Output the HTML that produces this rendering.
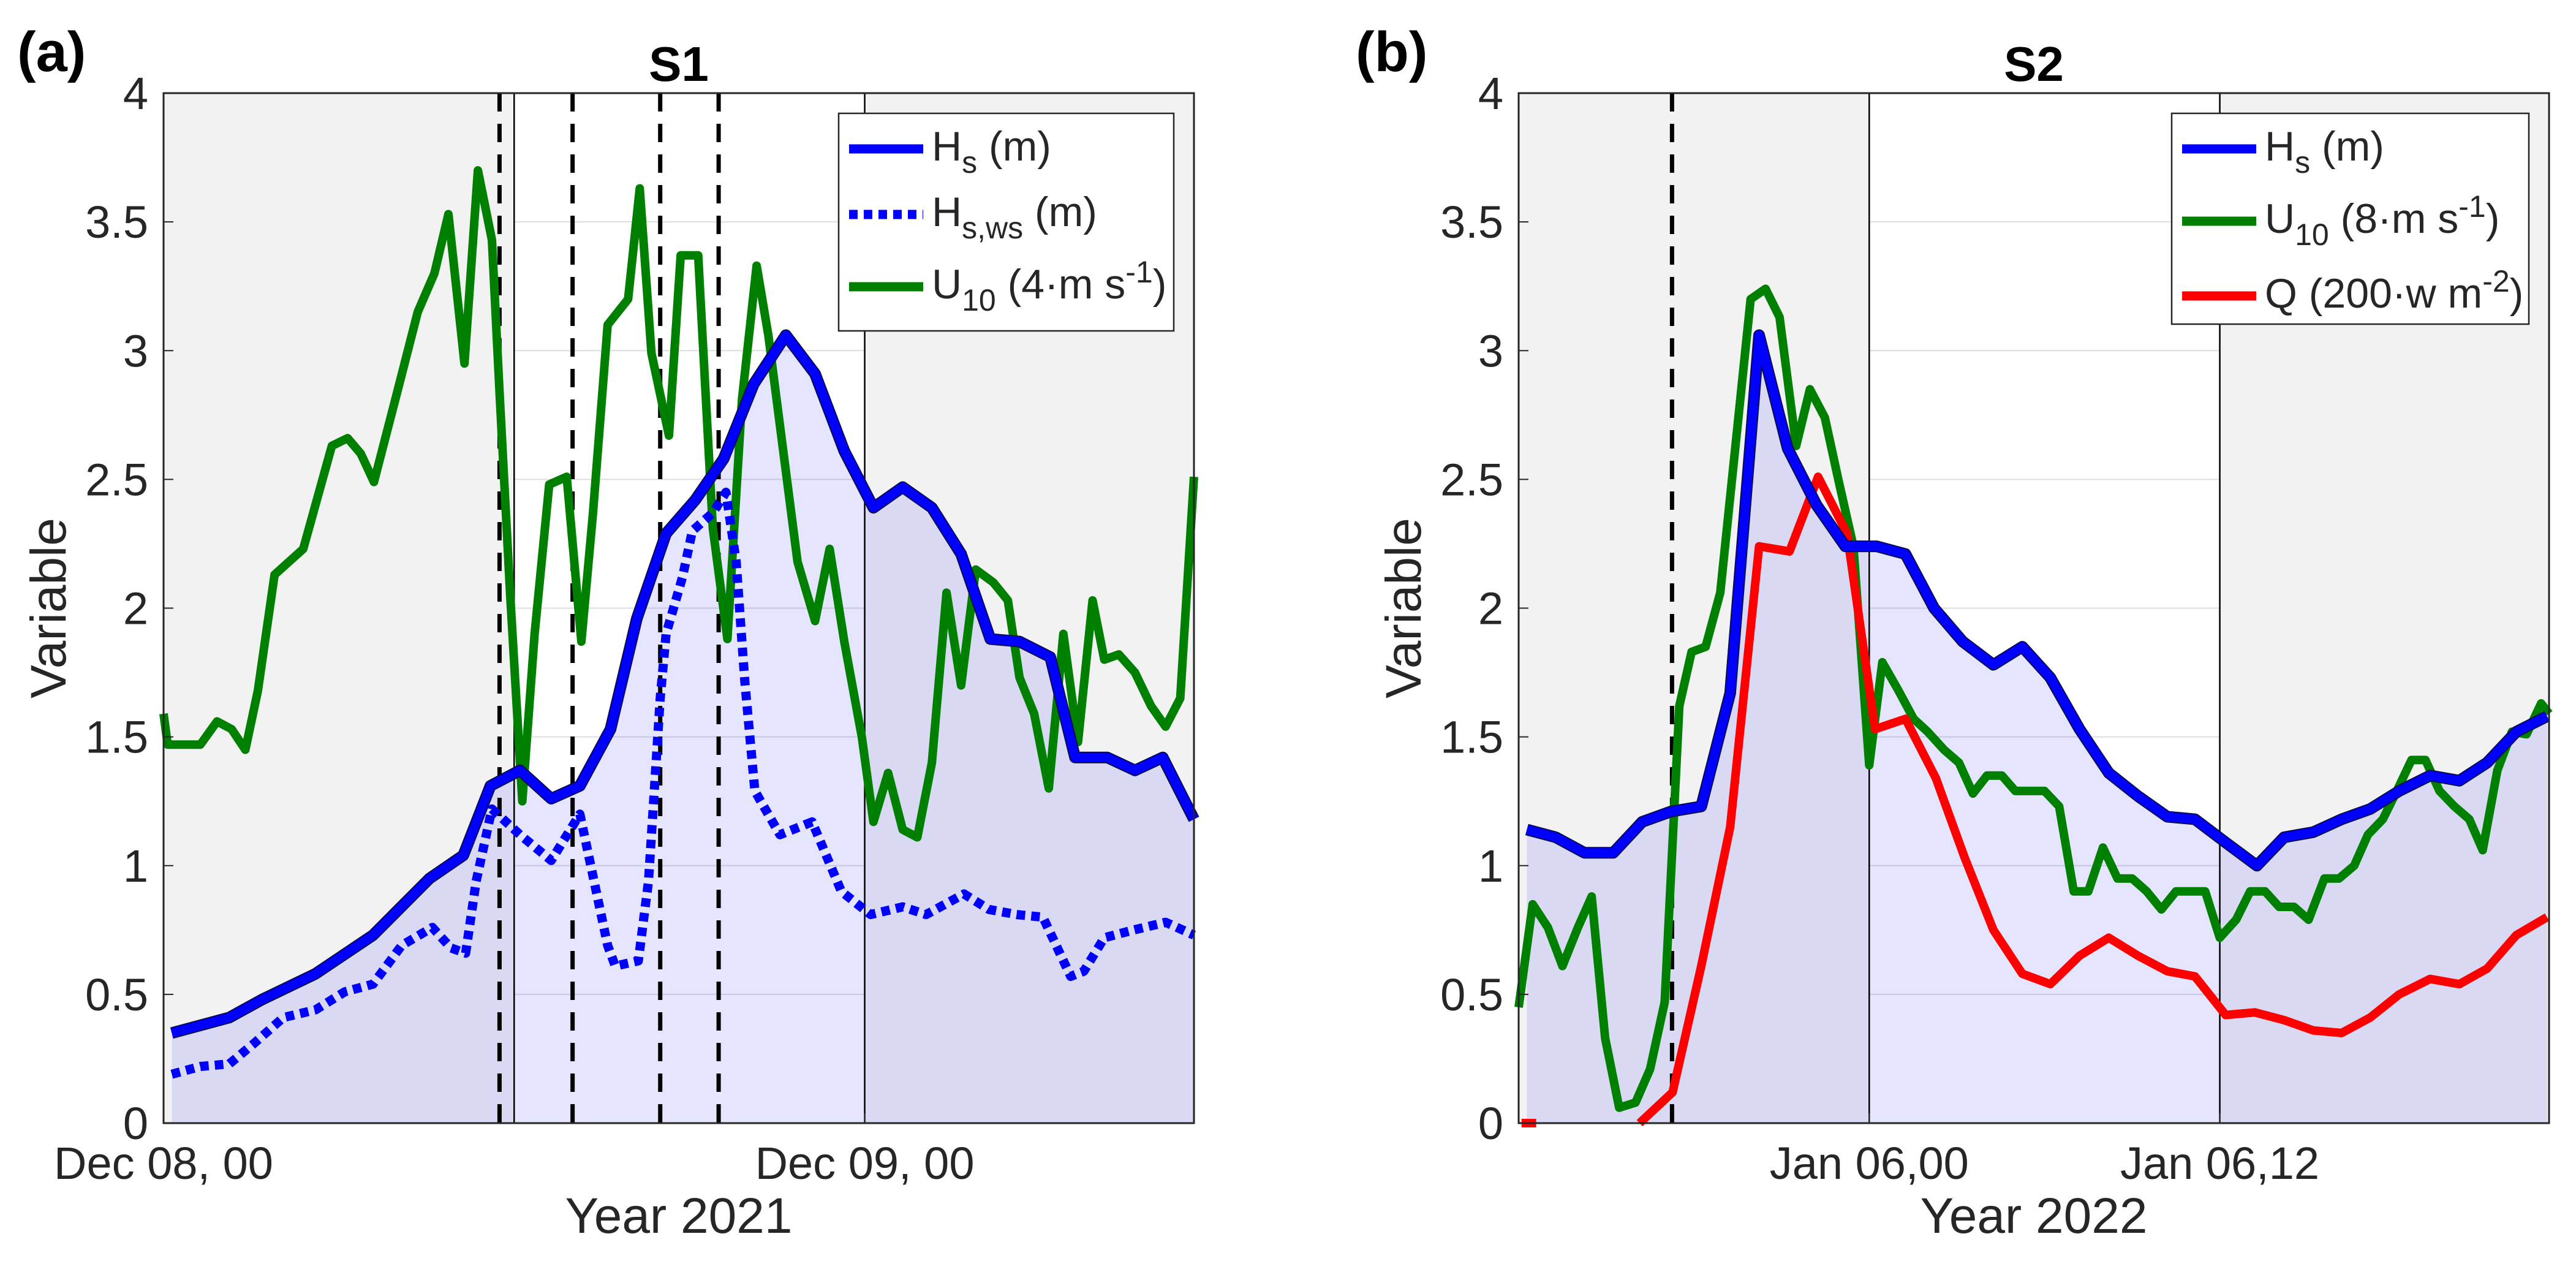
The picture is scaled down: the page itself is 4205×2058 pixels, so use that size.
<!DOCTYPE html>
<html><head><meta charset="utf-8"><style>
html,body{margin:0;padding:0;background:#fff}
svg text{font-family:"Liberation Sans",Arial,sans-serif;fill:#262626}
</style></head><body>
<svg id="fig" width="4205" height="2053" viewBox="0 0 4205 2053" xmlns="http://www.w3.org/2000/svg">
<g id="pa"></g>
<g id="pb"></g>
</svg>
<script>
// ---- Panel (a) data: hours since Dec 08 00 ----
const aHsT=[0.28,2.25,3.37,5.2,7.17,9.1,10.26,11.19,12.2,13.27,14.25,15.3,16.2,17.2,18.2,19.17,20.2,21.3,22.3,23.3,24.3,25.3,26.3,27.3,28.3,29.3,30.35,31.2,32.3,33.25,34.2,35.27];
const aHsV=[0.35,0.41,0.48,0.58,0.73,0.95,1.04,1.31,1.37,1.26,1.31,1.53,1.96,2.29,2.42,2.58,2.87,3.06,2.91,2.61,2.39,2.47,2.39,2.21,1.88,1.87,1.81,1.42,1.42,1.37,1.42,1.18];
const aWsT=[0.28,1.26,2.25,3.1,4.1,5.2,6.2,7.17,8.15,9.2,9.84,10.34,10.7,11.24,12.2,13.27,14.25,15.2,15.46,16.25,16.6,17.0,17.2,17.76,18.1,18.8,19.25,19.6,19.9,20.24,21.1,22.2,23.2,24.2,25.3,26.1,27.4,28.25,29.2,30.1,31.05,31.5,32.2,33.2,34.3,35.27];
const aWsV=[0.19,0.22,0.23,0.31,0.41,0.44,0.51,0.54,0.69,0.76,0.68,0.66,0.94,1.22,1.12,1.02,1.2,0.69,0.61,0.63,0.94,1.65,1.9,2.12,2.3,2.37,2.45,2.18,1.71,1.29,1.12,1.17,0.9,0.81,0.84,0.81,0.89,0.83,0.81,0.8,0.57,0.59,0.72,0.75,0.78,0.73];
const aUT=[0,0.14,1.26,1.83,2.33,2.8,3.23,3.8,4.78,5.76,6.3,6.75,7.2,8.0,8.7,9.27,9.75,10.3,10.76,11.24,11.5,11.86,12.28,12.7,13.2,13.8,14.3,14.7,15.2,15.9,16.3,16.7,17.3,17.7,18.3,18.8,19.3,19.8,20.3,20.7,21.2,21.7,22.3,22.8,23.3,23.9,24.3,24.8,25.3,25.8,26.3,26.8,27.3,27.8,28.4,28.9,29.3,29.8,30.3,30.8,31.3,31.8,32.2,32.7,33.25,33.8,34.3,34.8,35.27];
const aUV=[1.59,1.47,1.47,1.56,1.53,1.45,1.68,2.13,2.23,2.63,2.66,2.6,2.49,2.84,3.15,3.3,3.53,2.95,3.7,3.43,2.84,2.06,1.25,1.9,2.48,2.51,1.87,2.37,3.1,3.2,3.63,2.99,2.67,3.37,3.37,2.31,1.88,2.81,3.33,3.06,2.62,2.18,1.95,2.23,1.87,1.5,1.17,1.36,1.14,1.11,1.4,2.06,1.7,2.15,2.1,2.03,1.73,1.59,1.3,1.9,1.48,2.03,1.8,1.82,1.75,1.62,1.54,1.65,2.51];
const aDashed=[11.5,14,17,19];
const aXTicks=[0,24];
const aXTickLabels=["Dec 08, 00","Dec 09, 00"];

// ---- Panel (b) data: hours since Jan 06 00 ----
const bHsT=[-11.72,-10.73,-9.75,-8.76,-7.77,-6.79,-5.75,-4.76,-3.77,-2.79,-1.8,-0.82,0.25,1.24,2.22,3.2,4.25,5.24,6.2,7.2,8.2,9.2,10.2,11.15,12.2,13.27,14.2,15.2,16.17,17.15,18.14,19.2,20.2,21.15,22.15,23.2];
const bHsV=[1.14,1.11,1.05,1.05,1.17,1.21,1.23,1.67,3.06,2.62,2.4,2.24,2.24,2.21,2.0,1.87,1.78,1.85,1.73,1.53,1.36,1.27,1.19,1.18,1.09,1.0,1.11,1.13,1.18,1.22,1.29,1.35,1.33,1.4,1.52,1.58];
const bUT=[-12,-11.52,-11,-10.5,-9.97,-9.5,-9.04,-8.56,-8,-7.5,-7,-6.5,-6.08,-5.6,-5.1,-4.56,-4.06,-3.55,-3.07,-2.5,-2.03,-1.52,-1.04,-0.54,0,0.45,1,1.52,2,2.56,3.07,3.55,4.03,4.54,5,5.52,6,6.5,7,7.5,8,8.5,9,9.5,10,10.5,11,11.5,12,12.56,13.04,13.55,14.03,14.54,15.04,15.58,16.08,16.6,17.07,17.58,18.06,18.56,19.04,19.52,20.03,20.54,21,21.5,22,22.5,23,23.27];
const bUV=[0.45,0.85,0.76,0.61,0.76,0.88,0.33,0.06,0.08,0.21,0.47,1.62,1.83,1.85,2.06,2.65,3.2,3.24,3.13,2.63,2.85,2.74,2.49,2.24,1.39,1.79,1.68,1.57,1.52,1.45,1.4,1.28,1.35,1.35,1.29,1.29,1.29,1.23,0.9,0.9,1.07,0.95,0.95,0.9,0.83,0.9,0.9,0.9,0.72,0.79,0.9,0.9,0.84,0.84,0.79,0.95,0.95,1.0,1.12,1.18,1.29,1.41,1.41,1.29,1.23,1.18,1.06,1.37,1.52,1.51,1.63,1.59];
const bQT0=[-11.9,-11.4];
const bQV0=[0,0];
const bQT=[-7.86,-6.73,-5.75,-4.76,-3.77,-2.73,-1.75,-0.76,0.2,1.24,2.28,3.27,4.25,5.24,6.2,7.2,8.2,9.2,10.2,11.15,12.2,13.2,14.2,15.2,16.17,17.15,18.14,19.2,20.2,21.15,22.15,23.2];
const bQV=[0,0.12,0.61,1.15,2.24,2.22,2.51,2.29,1.53,1.57,1.34,1.03,0.75,0.58,0.54,0.65,0.72,0.65,0.59,0.57,0.42,0.43,0.4,0.36,0.35,0.41,0.5,0.56,0.54,0.6,0.73,0.8];
const bDashed=[-6.75];
const bXTicks=[0,12];
const bXTickLabels=["Jan 06,00","Jan 06,12"];

const yTicks=[0,0.5,1,1.5,2,2.5,3,3.5,4];
const yTickLabels=["0","0.5","1","1.5","2","2.5","3","3.5","4"];

const NS="http://www.w3.org/2000/svg";
function mk(tag,attrs,parent){const e=document.createElementNS(NS,tag);for(const k in attrs)e.setAttribute(k,attrs[k]);parent.appendChild(e);return e;}

function panel(g,o){
  const L=o.left,R=o.left+1682,T=152,B=1833;
  const sx=t=>L+(t-o.t0)/(o.t1-o.t0)*(R-L);
  const sy=v=>B-v/4*(B-T);
  const pts=(ts,vs)=>ts.map((t,i)=>sx(t).toFixed(1)+","+sy(vs[i]).toFixed(1)).join(" ");
  let e=mk("rect",{x:L,y:T,width:sx(o.w0)-L,height:B-T,fill:"#f2f2f2"},g);
  
  e=mk("rect",{x:sx(o.w0),y:T,width:sx(o.w1)-sx(o.w0),height:B-T,fill:"#ffffff"},g);
  
  e=mk("rect",{x:sx(o.w1),y:T,width:R-sx(o.w1),height:B-T,fill:"#f2f2f2"},g);
  
  yTicks.forEach(v=>{if(v>0&&v<4){const l=mk("line",{x1:sx(o.w0),x2:sx(o.w1),y1:sy(v),y2:sy(v),stroke:"#dedede","stroke-width":2},g);
    }});
  const ts=o.hsT,vs=o.hsV;
  e=mk("polygon",{points:sx(ts[0])+","+B+" "+pts(ts,vs)+" "+sx(ts[ts.length-1])+","+B,fill:"rgb(0,0,255)","fill-opacity":0.1},g);
  
  [o.w0,o.w1].forEach(t=>{const l=mk("line",{x1:sx(t),x2:sx(t),y1:T,y2:B,stroke:"#000","stroke-width":2.5},g);
    });
  o.dashed.forEach(t=>{const l=mk("line",{x1:sx(t),x2:sx(t),y1:T,y2:B,stroke:"#000","stroke-width":7,"stroke-dasharray":"30 20"},g);
    });
  o.series.forEach(s=>{
    if(s.outline){const l=mk("polyline",{points:pts(s.t,s.v),fill:"none",stroke:"#0a0a50","stroke-width":s.w+4,"stroke-linejoin":"round"},g);
      }
    const a={points:pts(s.t,s.v),fill:"none",stroke:s.c,"stroke-width":s.w,"stroke-linejoin":"round"};
    if(s.dash)a["stroke-dasharray"]=s.dash;
    const l=mk("polyline",a,g);
    
  });
  e=mk("rect",{x:L,y:T,width:R-L,height:B-T,fill:"none",stroke:"#262626","stroke-width":3},g);
  
  yTicks.forEach((v,i)=>{
    const tk=mk("line",{x1:L,x2:L+16,y1:sy(v),y2:sy(v),stroke:"#262626","stroke-width":2},g);
    
    const t=mk("text",{x:L-25,y:sy(v)+26,"text-anchor":"end","font-size":74},g);t.textContent=yTickLabels[i];
    
  });
  o.xTicks.forEach((v,i)=>{
    const tk=mk("line",{x1:sx(v),x2:sx(v),y1:B,y2:B-16,stroke:"#262626","stroke-width":2},g);
    
    const t=mk("text",{x:sx(v),y:1924,"text-anchor":"middle","font-size":74},g);t.textContent=o.xLabels[i];
    
  });
  let t=mk("text",{x:(L+R)/2,y:2012,"text-anchor":"middle","font-size":82},g);t.textContent=o.xTitle;
  
  t=mk("text",{x:0,y:0,"text-anchor":"middle","font-size":82,transform:"translate("+(L-160)+","+((T+B)/2)+") rotate(-90)"},g);t.textContent="Variable";
  
  t=mk("text",{x:(L+R)/2,y:132,"text-anchor":"middle","font-size":80,"font-weight":"bold",style:"fill:#000"},g);t.textContent=o.title;
  
  t=mk("text",{x:o.tagX,y:116,"font-size":92,"font-weight":"bold",style:"fill:#000"},g);t.textContent=o.tag;
  
  const lg=o.legend;
  const box=mk("g",{},g);
  e=mk("rect",{x:lg.x,y:185,width:R-33-lg.x,height:lg.h,fill:"#fff",stroke:"#262626","stroke-width":2.5},box);
  
  lg.items.forEach((it,i)=>{
    const y=lg.rows[i];
    const a={x1:lg.x+17,x2:lg.x+138,y1:y,y2:y,stroke:it.c,"stroke-width":15};
    if(it.dash)a["stroke-dasharray"]=it.dash;
    const l=mk("line",a,box);
    const tx=mk("text",{x:lg.x+152,y:y+19,"font-size":68},box);tx.innerHTML=it.html;
    
  });
}

panel(document.getElementById("pa"),{left:267,t0:0,t1:35.27,w0:12,w1:24,hsT:aHsT,hsV:aHsV,dashed:aDashed,
  xTicks:aXTicks,xLabels:aXTickLabels,xTitle:"Year 2021",title:"S1",tag:"(a)",tagX:28,
  series:[{name:"u10-line",t:aUT,v:aUV,c:"#008000",w:14},
          {name:"hs-ws-line",t:aWsT,v:aWsV,c:"#0000ff",w:15,dash:"14 10"},
          {name:"hs-line",t:aHsT,v:aHsV,c:"#0000ff",w:15,outline:true}],
  legend:{x:1369,h:355,rows:[243,350,468],items:[
    {c:"#0000ff",html:'H<tspan dy="20" font-size="50">s</tspan><tspan dy="-20"> (m)</tspan>'},
    {c:"#0000ff",dash:"14 10",html:'H<tspan dy="20" font-size="50">s,ws</tspan><tspan dy="-20"> (m)</tspan>'},
    {c:"#008000",html:'U<tspan dy="20" font-size="50">10</tspan><tspan dy="-20"> (4·m s</tspan><tspan dy="-26" font-size="50">-1</tspan><tspan dy="26">)</tspan>'}]}});

panel(document.getElementById("pb"),{left:2479,t0:-12,t1:23.27,w0:0,w1:12,hsT:bHsT,hsV:bHsV,dashed:bDashed,
  xTicks:bXTicks,xLabels:bXTickLabels,xTitle:"Year 2022",title:"S2",tag:"(b)",tagX:2213,
  series:[{name:"u10-line",t:bUT,v:bUV,c:"#008000",w:14},
          {name:"q-line-start",t:bQT0,v:bQV0,c:"#ff0000",w:14},
          {name:"q-line",t:bQT,v:bQV,c:"#ff0000",w:14},
          {name:"hs-line",t:bHsT,v:bHsV,c:"#0000ff",w:15,outline:true}],
  legend:{x:3545,h:344,rows:[243,361,483],items:[
    {c:"#0000ff",html:'H<tspan dy="20" font-size="50">s</tspan><tspan dy="-20"> (m)</tspan>'},
    {c:"#008000",html:'U<tspan dy="20" font-size="50">10</tspan><tspan dy="-20"> (8·m s</tspan><tspan dy="-26" font-size="50">-1</tspan><tspan dy="26">)</tspan>'},
    {c:"#ff0000",html:'Q (200·w m<tspan dy="-26" font-size="50">-2</tspan><tspan dy="26">)</tspan>'}]}});
</script>
</body></html>
